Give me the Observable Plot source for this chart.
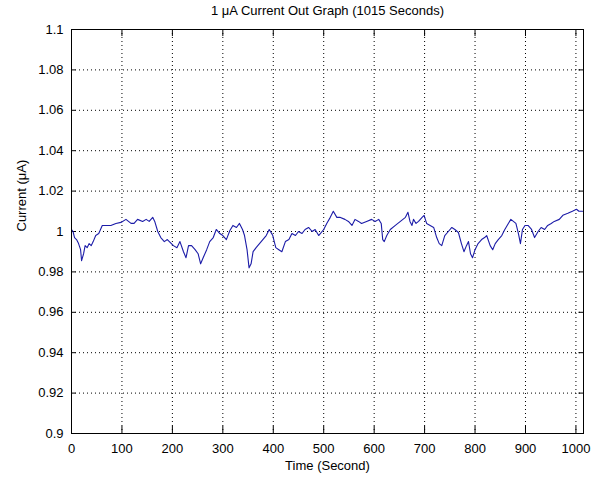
<!DOCTYPE html>
<html>
<head>
<meta charset="utf-8">
<script src="https://cdn.jsdelivr.net/npm/d3@7"></script>
<script src="https://cdn.jsdelivr.net/npm/@observablehq/plot@0.6"></script>
<style>
  html, body { margin: 0; padding: 0; background: #fff; }
  svg { font-family: "Liberation Sans", Arial, sans-serif; }
</style>
</head>
<body>
<div id="chart"></div>
<script>
const title = "1 μA Current Out Graph (1015 Seconds)";
const xLabel = "Time (Second)";
const yLabel = "Current (μA)";
const xTicks = [0, 100, 200, 300, 400, 500, 600, 700, 800, 900, 1000];
const yTicks = [0.9, 0.92, 0.94, 0.96, 0.98, 1.0, 1.02, 1.04, 1.06, 1.08, 1.1];

const time = [
  0, 3, 6, 10, 14, 18, 20, 24, 27, 31, 35, 39, 43, 48, 54, 61, 68, 78, 88, 98,
  108, 118, 124, 131, 141, 148, 154, 161, 165, 171, 177, 184, 190, 196, 202, 209,
  215, 222, 227, 232, 238, 245, 251, 256, 261, 268, 274, 281, 287, 294, 300, 307,
  314, 320, 327, 333, 339, 343, 348, 352, 356, 360, 366, 376, 386, 392, 399, 405,
  411, 417, 424, 431, 437, 444, 450, 457, 463, 470, 477, 483, 490, 500, 506, 513,
  519, 526, 532, 542, 549, 556, 562, 569, 575, 585, 595, 602, 609, 614, 617, 620,
  625, 632, 642, 652, 662, 667, 671, 675, 678, 683, 688, 695, 699, 704, 711, 718,
  724, 729, 734, 740, 747, 754, 760, 767, 773, 778, 783, 787, 791, 795, 800, 806,
  813, 819, 823, 830, 835, 840, 846, 853, 859, 866, 871, 876, 881, 886, 890, 894,
  899, 905, 912, 918, 925, 931, 938, 944, 951, 957, 967, 974, 984, 993, 1001, 1006,
  1013
];
const current = [
  1.001, 1.000, 0.997, 0.996, 0.994, 0.991, 0.9856, 0.989, 0.993, 0.992, 0.994, 0.993, 0.995, 0.998, 0.999, 1.003, 1.003, 1.003, 1.004, 1.0045,
  1.006, 1.004, 1.004, 1.006, 1.005, 1.006, 1.005, 1.007, 1.005, 1.000, 0.997, 0.995, 0.996, 0.9945, 0.993, 0.992,
  0.995, 0.990, 0.987, 0.993, 0.993, 0.991, 0.989, 0.984, 0.987, 0.991, 0.995, 0.997, 1.001, 0.999, 0.998, 0.996,
  1.0005, 1.003, 1.002, 1.004, 1.001, 0.998, 0.991, 0.982, 0.984, 0.990, 0.992, 0.995, 0.998, 1.001, 0.998, 0.992,
  0.991, 0.990, 0.995, 0.996, 0.999, 0.998, 1.000, 0.999, 1.001, 1.002, 1.000, 1.001, 0.998, 1.001, 1.004, 1.007,
  1.010, 1.007, 1.007, 1.006, 1.005, 1.003, 1.006, 1.005, 1.004, 1.005, 1.006, 1.005, 1.006, 1.004, 0.996, 0.995,
  0.998, 1.001, 1.003, 1.005, 1.007, 1.0095, 1.005, 1.003, 1.006, 1.004, 1.005, 1.007, 1.008, 1.004, 1.003, 1.002,
  0.997, 0.994, 0.993, 0.998, 1.000, 1.002, 1.001, 0.9995, 0.994, 0.990, 0.993, 0.995, 0.989, 0.987, 0.991, 0.994,
  0.996, 0.997, 0.998, 0.993, 0.991, 0.994, 0.996, 0.998, 1.001, 1.004, 1.006, 1.005, 1.004, 0.999, 0.994, 1.001,
  1.003, 1.003, 1.001, 0.997, 1.000, 1.002, 1.001, 1.003, 1.004, 1.005, 1.006, 1.008, 1.009, 1.010, 1.011, 1.010,
  1.010
];

const data = time.map((t, i) => ({t, v: current[i]}));
const fmt = d => String(+d.toFixed(2));
const font = "Liberation Sans, Arial, sans-serif";

const chart = Plot.plot({
  width: 592,
  height: 487,
  marginLeft: 71,
  marginRight: 9,
  marginTop: 29,
  marginBottom: 54,
  style: {fontFamily: font, fontSize: "13px", background: "#fff", color: "#000"},
  x: {domain: [0, 1015]},
  y: {domain: [0.9, 1.1]},
  marks: [
    Plot.gridX(xTicks.filter(d => d > 0), {stroke: "#000", strokeOpacity: 1, strokeDasharray: "1,3"}),
    Plot.gridY(yTicks.filter(d => d > 0.9 && d < 1.1), {stroke: "#000", strokeOpacity: 1, strokeDasharray: "1,3"}),
    Plot.ruleX(xTicks, {y1: 0.9, y2: 0.9035, stroke: "#000"}),
    Plot.ruleX(xTicks, {y1: 1.1, y2: 1.0965, stroke: "#000"}),
    Plot.ruleY(yTicks, {x1: 0, x2: 9, stroke: "#000"}),
    Plot.ruleY(yTicks, {x1: 1015, x2: 1006, stroke: "#000"}),
    Plot.line(data, {x: "t", y: "v", stroke: "#1c1ca8", strokeWidth: 1.1}),
    Plot.frame({stroke: "#000"}),
    Plot.axisX(xTicks, {tickSize: 0, tickPadding: 10, tickFormat: d => String(d), label: null, fontSize: 13}),
    Plot.axisY(yTicks, {tickSize: 0, tickPadding: 8, tickFormat: fmt, label: null, fontSize: 13}),
    Plot.text([title], {frameAnchor: "top", dy: -24, fontSize: 13, fill: "#000"}),
    Plot.text([xLabel], {frameAnchor: "bottom", dy: 36, fontSize: 13, fill: "#000"}),
    Plot.text([yLabel], {frameAnchor: "left", dx: -50, rotate: -90, fontSize: 13, fill: "#000"})
  ]
});
document.getElementById("chart").appendChild(chart);
</script>
</body>
</html>
